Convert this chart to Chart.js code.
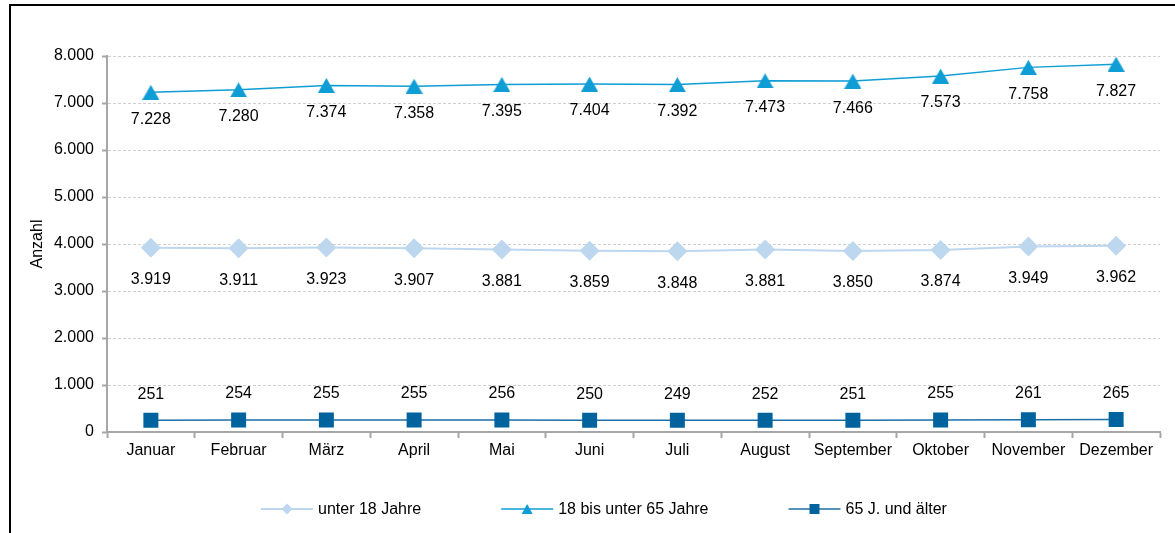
<!DOCTYPE html>
<html><head><meta charset="utf-8">
<script src="https://cdn.jsdelivr.net/npm/chart.js@4/dist/chart.umd.min.js"></script>
<style>
html,body{margin:0;padding:0;background:#fff;}
#wrap{position:relative;width:1175px;height:533px;overflow:hidden;}
#frame{position:absolute;left:9px;top:4px;right:-10px;bottom:-10px;border-top:2px solid #000;border-left:2px solid #000;}
canvas{position:absolute;left:0;top:0;}
</style></head><body>
<div id="wrap"><div id="frame"></div><canvas id="c" width="1175" height="533"></canvas></div>
<script>
const months = ['Januar','Februar','März','April','Mai','Juni','Juli','August','September','Oktober','November','Dezember'];
const under18 = [3919, 3911, 3923, 3907, 3881, 3859, 3848, 3881, 3850, 3874, 3949, 3962];
const age18to65 = [7228, 7280, 7374, 7358, 7395, 7404, 7392, 7473, 7466, 7573, 7758, 7827];
const age65plus = [251, 254, 255, 255, 256, 250, 249, 252, 251, 255, 261, 265];
const seriesNames = ['unter 18 Jahre', '18 bis unter 65 Jahre', '65 J. und älter'];
const yAxisTitle = 'Anzahl';
const yMin = 0, yMax = 8000, yStep = 1000;

const FONT = '"Liberation Sans", Arial, sans-serif';
function fmt(n){ return String(n).replace(/\B(?=(\d{3})+(?!\d))/g, '.'); }

function triangleImage(w, h, color){
  const c = document.createElement('canvas');
  c.width = w; c.height = h;
  const g = c.getContext('2d');
  g.fillStyle = color;
  g.beginPath(); g.moveTo(w/2, 0); g.lineTo(w, h); g.lineTo(0, h); g.closePath(); g.fill();
  return c;
}
const triColor = '#0E9DD5';
const triPoint = triangleImage(17, 15, triColor);

function drawMarker(ctx, style, x, y, size){
  ctx.beginPath();
  if (style === 'diamond'){
    ctx.moveTo(x - size, y); ctx.lineTo(x, y - size); ctx.lineTo(x + size, y); ctx.lineTo(x, y + size);
  } else if (style === 'triangle'){
    ctx.moveTo(x, y - size*0.9); ctx.lineTo(x + size, y + size*0.9); ctx.lineTo(x - size, y + size*0.9);
  } else {
    ctx.rect(x - size, y - size, 2*size, 2*size);
  }
  ctx.closePath(); ctx.fill();
}

const labelPlugin = {
  id: 'valueLabels',
  afterDatasetsDraw(chart){
    const ctx = chart.ctx;
    chart.data.datasets.forEach((ds, i) => {
      const meta = chart.getDatasetMeta(i);
      ctx.save();
      ctx.font = '16px ' + FONT;
      ctx.fillStyle = '#000';
      ctx.textAlign = 'center';
      ctx.textBaseline = 'middle';
      meta.data.forEach((pt, j) => {
        ctx.fillText(fmt(ds.data[j]), pt.x, pt.y + ds.labelOffset);
      });
      ctx.restore();
    });
  }
};

const legendPlugin = {
  id: 'customLegend',
  afterDraw(chart){
    const ctx = chart.ctx;
    let x = 261; const y = 509;
    ctx.save();
    ctx.font = '16px ' + FONT;
    chart.data.datasets.forEach(ds => {
      ctx.strokeStyle = ds.borderColor;
      ctx.lineWidth = ds.borderWidth;
      ctx.beginPath(); ctx.moveTo(x, y); ctx.lineTo(x + 52, y); ctx.stroke();
      ctx.fillStyle = ds.backgroundColor;
      drawMarker(ctx, ds.legendMarker, x + 26, y, ds.legendSize);
      ctx.fillStyle = '#000';
      ctx.textAlign = 'left'; ctx.textBaseline = 'middle';
      ctx.fillText(ds.label, x + 57, y + 1);
      x += 57 + ctx.measureText(ds.label).width + 80;
    });
    ctx.restore();
  }
};

new Chart(document.getElementById('c'), {
  type: 'line',
  data: {
    labels: months,
    datasets: [
      { label: seriesNames[0], data: under18, borderColor: '#BDD7EE', backgroundColor: '#BDD7EE',
        pointBackgroundColor: '#BDD7EE', pointBorderWidth: 0, borderWidth: 2,
        pointStyle: 'rectRot', pointRadius: 10, labelOffset: 32, legendMarker: 'diamond', legendSize: 5.5 },
      { label: seriesNames[1], data: age18to65, borderColor: triColor, backgroundColor: triColor,
        pointBackgroundColor: triColor, pointBorderWidth: 0, borderWidth: 1.5,
        pointStyle: triPoint, pointRadius: 9, labelOffset: 27, legendMarker: 'triangle', legendSize: 5.5 },
      { label: seriesNames[2], data: age65plus, borderColor: '#1E6FA5', backgroundColor: '#00639E',
        pointBackgroundColor: '#00639E', pointBorderWidth: 0, borderWidth: 1.5,
        pointStyle: 'rect', pointRadius: 10.6, labelOffset: -26, legendMarker: 'square', legendSize: 5 }
    ]
  },
  options: {
    responsive: false,
    animation: false,
    layout: { padding: { left: 28, top: 56, right: 15, bottom: 0 } },
    elements: { line: { tension: 0 } },
    plugins: { legend: { display: false }, tooltip: { enabled: false } },
    scales: {
      x: {
        offset: true,
        grid: { offset: true, drawOnChartArea: false, drawTicks: true, tickLength: 6,
                tickColor: '#A6A6A6', tickWidth: 2, color: '#A6A6A6' },
        border: { color: '#A6A6A6', width: 2 },
        ticks: { color: '#000', font: { family: FONT, size: 16 }, padding: 3, maxRotation: 0, autoSkip: false },
        afterFit(s){ s.height = 101; }
      },
      y: {
        min: yMin, max: yMax,
        ticks: { stepSize: yStep, color: '#000', font: { family: FONT, size: 16 }, padding: 8,
                 callback: v => fmt(v) },
        grid: { color: '#CFCFCF', lineWidth: 1, drawTicks: true, tickLength: 5,
                tickColor: '#A6A6A6', tickWidth: 2, tickBorderDash: [] },
        border: { color: '#A6A6A6', width: 2, dash: [3, 2] },
        title: { display: true, text: yAxisTitle, color: '#000', font: { family: FONT, size: 16 }, padding: 0 },
        afterFit(s){ s.width = 79; }
      }
    }
  },
  plugins: [labelPlugin, legendPlugin]
});
</script>
</body></html>
